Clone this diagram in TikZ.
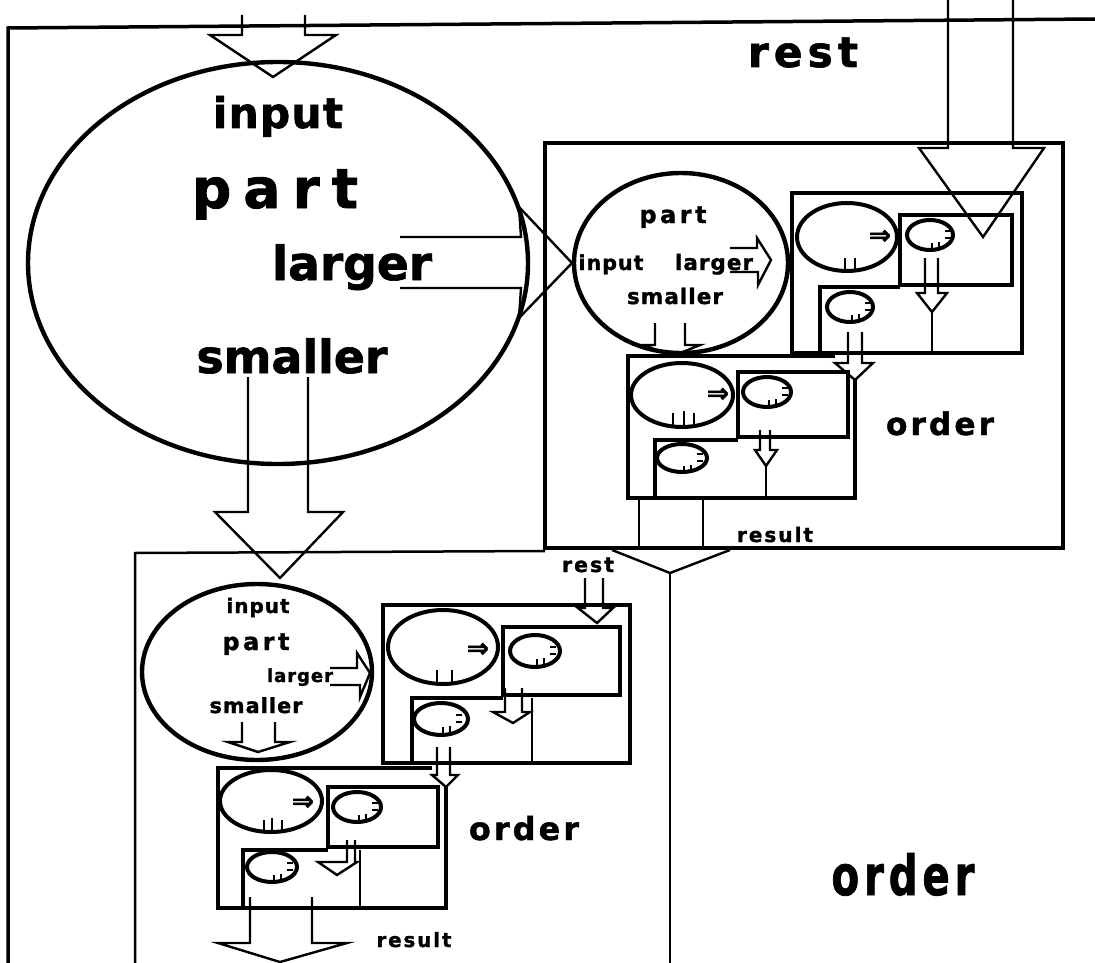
\documentclass[tikz,border=0pt]{standalone}
\usepackage{graphicx}
\usepackage{fontspec}
\setmainfont{DejaVu Sans}
\newfontfamily\symf[FakeBold=2]{DejaVu Sans Bold}
\usetikzlibrary{shapes.geometric}
\newcommand{\lbl}[3]{\resizebox{#1pt}{!}{\bfseries\addfontfeatures{LetterSpace=#2,FakeBold=1.5}#3}}
\newcommand{\lblh}[3]{\resizebox{#1pt}{#2pt}{\bfseries\addfontfeatures{LetterSpace=12,FakeBold=1.5}#3}}
\newcommand{\blk}[8]{\draw[arr] (#1,#3) -- (#1,#4) -- (#5,#4) -- (#7,#8) -- (#6,#4) -- (#2,#4) -- (#2,#3);}
\newcommand{\impl}{\resizebox{22pt}{14pt}{\symf ⇒}}
\tikzset{
  frame/.style={line width=3.5pt},
  boxln/.style={line width=4.2pt, line join=miter},
  arr/.style={line width=2.4pt, line join=miter},
  ell/.style={draw, ellipse, line width=4.4pt, inner sep=0pt},
  sell/.style={draw, ellipse, line width=4pt, inner sep=0pt},
  txt/.style={inner sep=0pt, anchor=base},
  tick/.style={line width=2.8pt},
  notch/.pic={\draw[line width=2pt] (15,-4)--(21,-4) (15,3)--(21,3) (2,14)--(2,8) (9,13)--(9,7);}
}
\begin{document}
\begin{tikzpicture}[x=1pt,y=-1pt]
\useasboundingbox (0,0) rectangle (1095,963);
\fill[white] (0,0) rectangle (1095,963);
% outer frame
\draw[frame] (8,963) -- (8,28) -- (1095,19);
% big ellipse
\node[ell, minimum width=500pt, minimum height=402pt] (big) at (278,263) {};
\node[txt] (bigin) at (278,128) {\lbl{130}{3}{input}};
\node[txt] (bigpart) at (275,208) {\lbl{166}{22}{part}};
\node[txt] (biglarger) at (352,280) {\lbl{160}{0}{larger}};
\node[txt] (bigsmaller) at (292,373) {\lbl{191}{0}{smaller}};
\node[txt] (toprest) at (803,67) {\lbl{110}{12}{rest}};
% input arrow
\blk{242}{305}{15}{35}{210}{336}{273}{77}
% larger arrow
\draw[arr] (400,237) -- (521,237) -- (519,207) -- (572,263) -- (519,318) -- (521,288) -- (400,288);
% smaller arrow
\blk{248}{308}{377}{512}{215}{343}{280}{578}
% rest arrow
\blk{948}{1013}{0}{148}{919}{1044}{983}{237}
% right frame
\draw[boxln] (545,143) rectangle (1063,548);
\node[ell, minimum width=214pt, minimum height=180pt] (mid) at (681,263) {};
\node[txt] (midpart) at (673,223) {\lbl{67}{15}{part}};
\node[txt] (midin) at (611,270) {\lbl{65}{5}{input}};
\node[txt] (midlarger) at (714,270) {\lbl{78}{5}{larger}};
\node[txt] (midsmaller) at (675,304) {\lbl{96}{5}{smaller}};
\draw[arr] (730,248) -- (757,248) -- (757,238) -- (771,260) -- (758,285) -- (758,272) -- (730,272);
\blk{655}{685}{323}{345}{643}{700}{673}{356}
% box A
\draw[boxln] (792,193) rectangle (1022,353);
\node[sell, minimum width=100pt, minimum height=68pt] (a1) at (847,237) {};
\node (a1i) at (880,237) {\impl};
\draw[tick] (845,270) -- (845,258) (855,270) -- (855,258);
\draw[boxln] (900,215) rectangle (1012,285);
\node[sell, minimum width=46pt, minimum height=30pt] (b1) at (930,235) {};
\pic at (930,235) {notch};
\blk{925}{938}{258}{293}{917}{947}{932}{312}
\draw[arr] (932,312) -- (932,353);
\draw[boxln] (820,353) -- (820,287) -- (900,287);
\node[sell, minimum width=46pt, minimum height=30pt] (c1) at (850,307) {};
\pic at (850,307) {notch};
\blk{848}{862}{332}{363}{835}{873}{855}{380}
% box D
\draw[boxln] (835,356) -- (628,356) -- (628,498) -- (855,498) -- (855,380);
\node[sell, minimum width=102pt, minimum height=64pt] (d1) at (682,395) {};
\node (d1i) at (718,395) {\impl};
\draw[tick] (673,426) -- (673,413) (684,426) -- (684,411) (694,426) -- (694,413);
\draw[boxln] (738,372) rectangle (848,437);
\node[sell, minimum width=48pt, minimum height=30pt] (e1) at (767,392) {};
\pic at (767,392) {notch};
\blk{760}{770}{430}{450}{755}{777}{766}{466}
\draw[arr] (766,466) -- (766,498);
\draw[boxln] (655,498) -- (655,440) -- (738,440);
\node[sell, minimum width=50pt, minimum height=28pt] (f1) at (682,458) {};
\pic at (682,458) {notch};
\draw[arr] (639,498) -- (639,548) (703,498) -- (703,548);
\draw[arr] (612,550) -- (670,573) -- (730,550);
\node[txt] (rorder) at (940,435) {\lbl{108}{10}{order}};
\node[txt] (rresult) at (775,542) {\lbl{76}{10}{result}};
\node[txt] (bigorder) at (903,895) {\lblh{143}{42}{order}};
% bottom-left frame
\draw[line width=2.5pt] (135,963) -- (135,553) -- (545,551);
\draw[line width=2.5pt] (670,573) -- (670,963);
\node[txt] (blrest) at (588,572) {\lbl{52}{10}{rest}};
\blk{585}{603}{578}{608}{578}{613}{597}{623}
\node[ell, minimum width=230pt, minimum height=176pt] (bl) at (257,672) {};
\node[txt] (blin) at (258,613) {\lbl{63}{5}{input}};
\node[txt] (blpart) at (256,650) {\lbl{67}{15}{part}};
\node[txt] (bllarger) at (300,682) {\lbl{66}{5}{larger}};
\node[txt] (blsmaller) at (256,713) {\lbl{93}{5}{smaller}};
\draw[arr] (330,668) -- (357,668) -- (357,653) -- (370,673) -- (360,697) -- (360,685) -- (330,685);
\blk{242}{275}{722}{742}{228}{290}{258}{752}
% box G
\draw[boxln] (383,605) rectangle (630,763);
\node[sell, minimum width=110pt, minimum height=74pt] (g1) at (443,647) {};
\node (g1i) at (478,650) {\impl};
\draw[tick] (437,683) -- (437,670) (452,683) -- (452,670);
\draw[boxln] (503,627) rectangle (620,695);
\node[sell, minimum width=50pt, minimum height=32pt] (h1) at (535,651) {};
\pic at (535,651) {notch};
\blk{505}{522}{688}{712}{493}{530}{513}{723}
\draw[boxln] (412,763) -- (412,698) -- (503,698);
\draw[arr] (532,698) -- (532,763);
\node[sell, minimum width=54pt, minimum height=32pt] (i1) at (441,719) {};
\pic at (441,719) {notch};
\blk{437}{450}{747}{775}{432}{458}{446}{787}
% box J
\draw[boxln] (432,768) -- (218,768) -- (218,908) -- (446,908) -- (446,787);
\node[sell, minimum width=102pt, minimum height=62pt] (j1) at (271,801) {};
\node (j1i) at (303,803) {\impl};
\draw[tick] (264,831) -- (264,820) (272,831) -- (272,818) (282,831) -- (282,820);
\draw[boxln] (328,787) rectangle (438,847);
\node[sell, minimum width=48pt, minimum height=30pt] (k1) at (357,807) {};
\pic at (357,807) {notch};
\blk{347}{355}{840}{862}{318}{357}{337}{875}
\draw[boxln] (243,908) -- (243,850) -- (328,850);
\draw[arr] (360,850) -- (360,908);
\node[sell, minimum width=50pt, minimum height=30pt] (l1) at (272,867) {};
\pic at (272,867) {notch};
\blk{250}{312}{897}{943}{218}{347}{280}{962}
\node[txt] (blorder) at (524,840) {\lbl{110}{10}{order}};
\node[txt] (blresult) at (414,947) {\lbl{75}{10}{result}};
\end{tikzpicture}
\end{document}
